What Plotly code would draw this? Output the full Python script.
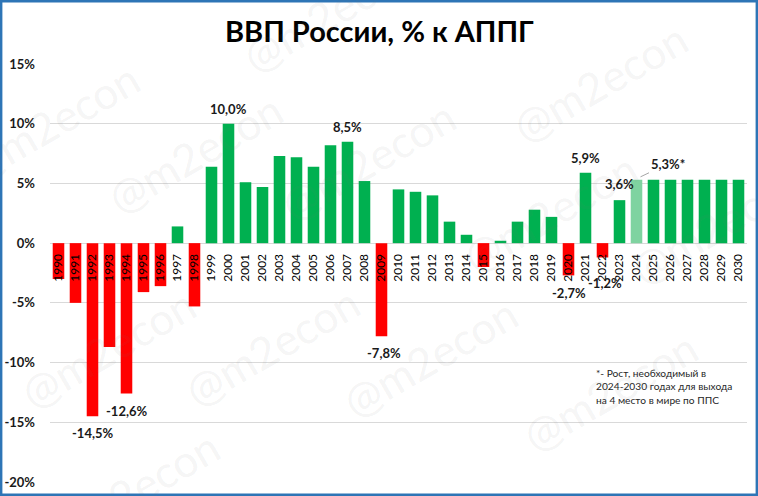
import plotly.graph_objects as go

# ---- data ----
years = [str(y) for y in range(1990, 2031)]
growth = [-3.0, -5.0, -14.5, -8.7, -12.6, -4.1, -3.6, 1.4, -5.3, 6.4,
          10.0, 5.1, 4.7, 7.3, 7.2, 6.4, 8.2, 8.5, 5.2, -7.8,
          4.5, 4.3, 4.0, 1.8, 0.7, -2.0, 0.2, 1.8, 2.8, 2.2,
          -2.7, 5.9, -1.2, 3.6, 5.3, 5.3, 5.3, 5.3, 5.3, 5.3, 5.3]
target_years = ["2024"]
labeled_years = ["1992", "1994", "2000", "2007", "2009", "2020", "2021", "2022", "2023"]
target_label_year = "2024"
y_tickvals = [-20, -15, -10, -5, 0, 5, 10, 15]
y_ticktext = ["-20%", "-15%", "-10%", "-5%", "0%", "5%", "10%", "15%"]
title_text = "ВВП России, % к АППГ"
footnote = "*- Рост, необходимый в<br>2024-2030 годах для выхода<br>на 4 место в мире по ППС"
watermark = "@m2econ"

# ---- layout geometry ----
W, H = 758, 496
ML, MR, MT, MB = 50, 11, 64, 14
PW, PH = W - ML - MR, H - MT - MB
YMIN, YMAX = -20, 15


def px_x(px):
    return (px - ML) / PW


def px_y(py):
    return (H - MB - py) / PH


FONT = "Lato"
GREEN, RED, LIGHT = "#00b050", "#ff0000", "#7fd3a0"
colors = [LIGHT if y in target_years else (GREEN if v >= 0 else RED)
          for y, v in zip(years, growth)]

fig = go.Figure()
fig.add_trace(go.Bar(x=years, y=growth, marker=dict(color=colors, line=dict(width=0)),
                     hoverinfo="x+y", showlegend=False))


def fmt(v):
    return f"{v:.1f}".replace(".", ",") + "%"


# label offsets (style only)
shifts = {"1992": (0, -7), "1994": (0, -7), "2000": (0, 5), "2007": (0, 5),
          "2009": (2, -7), "2020": (0, -8), "2021": (0, 5), "2022": (2, -16),
          "2023": (0, 6)}
annotations = []
for y in labeled_years:
    i = years.index(y)
    v = growth[i]
    dx, dy = shifts[y]
    annotations.append(dict(
        x=i, y=v, xref="x", yref="y", text=fmt(v), showarrow=False,
        yanchor="bottom" if v >= 0 else "top", xshift=dx, yshift=dy,
        font=dict(family=FONT, size=13, color="#1a1a1a", weight="bold")))

ti = years.index(target_label_year)
tv = growth[ti]
annotations.append(dict(
    x=ti, y=tv, xref="x", yref="y", text=fmt(tv) + "*",
    showarrow=True, arrowhead=0, arrowwidth=1, arrowcolor="#a6a6a6",
    ax=27, ay=-13, xshift=4, yshift=3, standoff=0,
    font=dict(family=FONT, size=13, color="#1a1a1a", weight="bold")))

annotations.append(dict(
    x=px_x(594), y=px_y(365), xref="paper", yref="paper", text=footnote,
    showarrow=False, xanchor="left", yanchor="top", align="left",
    font=dict(family=FONT, size=10.2, color="#262626")))

annotations.append(dict(
    x=px_x(379), y=px_y(31), xref="paper", yref="paper", text=title_text,
    showarrow=False, xanchor="center", yanchor="middle",
    font=dict(family=FONT, size=29, color="#000000", weight="bold")))

# watermark tiles
wm_pos = [(52, 122), (195, 153), (368, 160), (600, 82), (550, 212), (718, 224),
          (108, 348), (272, 346), (430, 357), (610, 391), (132, 490), (330, 12)]
for (cx, cy) in wm_pos:
    annotations.append(dict(
        x=px_x(cx), y=px_y(cy), xref="paper", yref="paper", text=watermark,
        showarrow=False, textangle=-30, xanchor="center", yanchor="middle",
        font=dict(family=FONT, size=44, color="rgba(120,120,120,0.085)")))

shapes = [dict(type="rect", xref="paper", yref="paper",
               x0=px_x(1.2), x1=px_x(756.8), y0=px_y(494.8), y1=px_y(1.2),
               line=dict(color="#2e75b6", width=2.4), fillcolor="rgba(0,0,0,0)", layer="above")]

fig.update_layout(
    width=W, height=H, margin=dict(l=ML, r=MR, t=MT, b=MB, autoexpand=False),
    paper_bgcolor="white", plot_bgcolor="white",
    bargap=0.32,
    annotations=annotations, shapes=shapes,
    xaxis=dict(type="category", range=[-0.5, len(years) - 0.5], autorange=False,
               automargin=False,
               anchor="free", position=(0 - YMIN) / (YMAX - YMIN),
               tickangle=-90, showgrid=False, showline=False, zeroline=False,
               ticks="outside", ticklen=5, tickcolor="rgba(0,0,0,0)",
               tickfont=dict(family=FONT, size=12, color="#000000")),
    yaxis=dict(range=[YMIN, YMAX], autorange=False, automargin=False,
               tickvals=y_tickvals, ticktext=y_ticktext,
               showgrid=True, gridcolor="#d9d9d9", gridwidth=1, zeroline=False,
               showline=False, ticks="", ticklabelstandoff=14,
               tickfont=dict(family=FONT, size=13, color="#1a1a1a", weight="bold")),
)

fig.write_html("out.html", config={"displayModeBar": False},
               post_script="document.body.style.margin='0';document.body.style.overflow='hidden';")
